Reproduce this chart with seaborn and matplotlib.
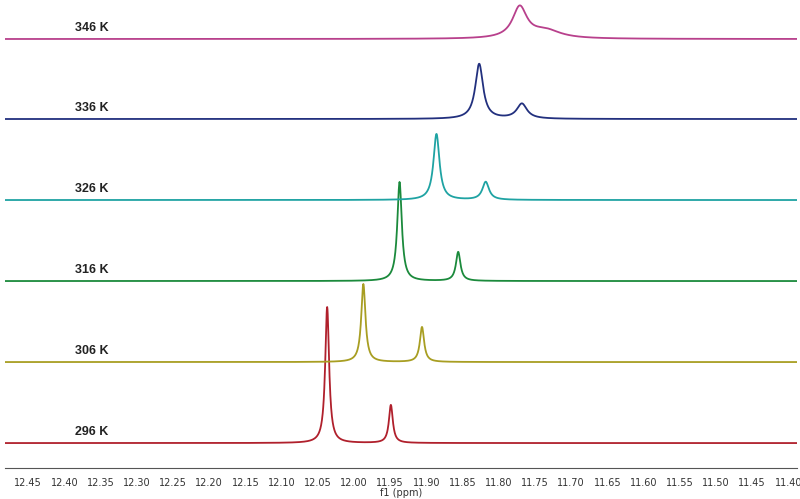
import numpy as np
import pandas as pd
import matplotlib
matplotlib.use("Agg")
import matplotlib.pyplot as plt
import seaborn as sns

# temperatures, bottom to top
temps = ["296 K", "306 K", "316 K", "326 K", "336 K", "346 K"]
colors = ["#b0202c", "#a89e22", "#1b8a3c", "#1fa3a3", "#22307e", "#b8408c"]
offsets = [0, 81, 162, 243, 324, 404]

# peak positions (ppm), heights and FWHM (ppm)
peak_pos = [[12.037, 11.949], [11.987, 11.906], [11.937, 11.856],
            [11.886, 11.818], [11.827, 11.768], [11.771, 11.735]]
peak_h = [[136, 38], [78, 35], [99, 29], [66, 18], [55, 15], [31, 8]]
peak_w = [[0.0065, 0.0065], [0.007, 0.007], [0.0075, 0.0075],
          [0.010, 0.011], [0.013, 0.017], [0.024, 0.050]]

ticks = [12.45, 12.40, 12.35, 12.30, 12.25, 12.20, 12.15, 12.10, 12.05, 12.00,
         11.95, 11.90, 11.85, 11.80, 11.75, 11.70, 11.65, 11.60, 11.55, 11.50,
         11.45, 11.40]

ppm = np.linspace(12.482, 11.388, 3000)
frames = []
for t, off, pos, h, w in zip(temps, offsets, peak_pos, peak_h, peak_w):
    y = np.zeros_like(ppm)
    for p, a, g in zip(pos, h, w):
        y += a * (g / 2) ** 2 / ((ppm - p) ** 2 + (g / 2) ** 2)
    frames.append(pd.DataFrame({"ppm": ppm, "I": y + off, "T": t}))
df = pd.concat(frames)

sns.set_style("white")
fig = plt.figure(figsize=(8, 4.99), dpi=100)
ax = fig.add_axes([0.00625, 0.062, 0.99, 0.938])

sns.lineplot(df, x="ppm", y="I", hue="T", palette=dict(zip(temps, colors)),
             hue_order=temps, sort=False, estimator=None, lw=1.3, legend=False, ax=ax)

for t, off in zip(temps, offsets):
    ax.text(12.362, off + 5, t, ha="center", va="bottom", fontsize=9,
            fontweight="bold", color="#222222", family="Liberation Sans")

ax.set_xlim(12.482, 11.388)
ax.set_ylim(-25, 443)
ax.set_xticks(ticks)
ax.set_xticklabels([f"{v:.2f}" for v in ticks], fontsize=7, color="#333333")
ax.set_xticks(np.arange(11.425, 12.48, 0.05), minor=True)
ax.tick_params(axis="x", which="major", direction="out", length=4, color="#555555", pad=3)
ax.tick_params(axis="x", which="minor", direction="out", length=2, color="#555555")
ax.set_yticks([])
ax.set_xlabel("f1 (ppm)", fontsize=7, color="#333333", labelpad=0)
ax.set_ylabel("")
for s in ["top", "left", "right"]:
    ax.spines[s].set_visible(False)
ax.spines["bottom"].set_color("#555555")
ax.spines["bottom"].set_linewidth(0.8)
ax.patch.set_alpha(0)

fig.savefig("out.png", dpi=100)
